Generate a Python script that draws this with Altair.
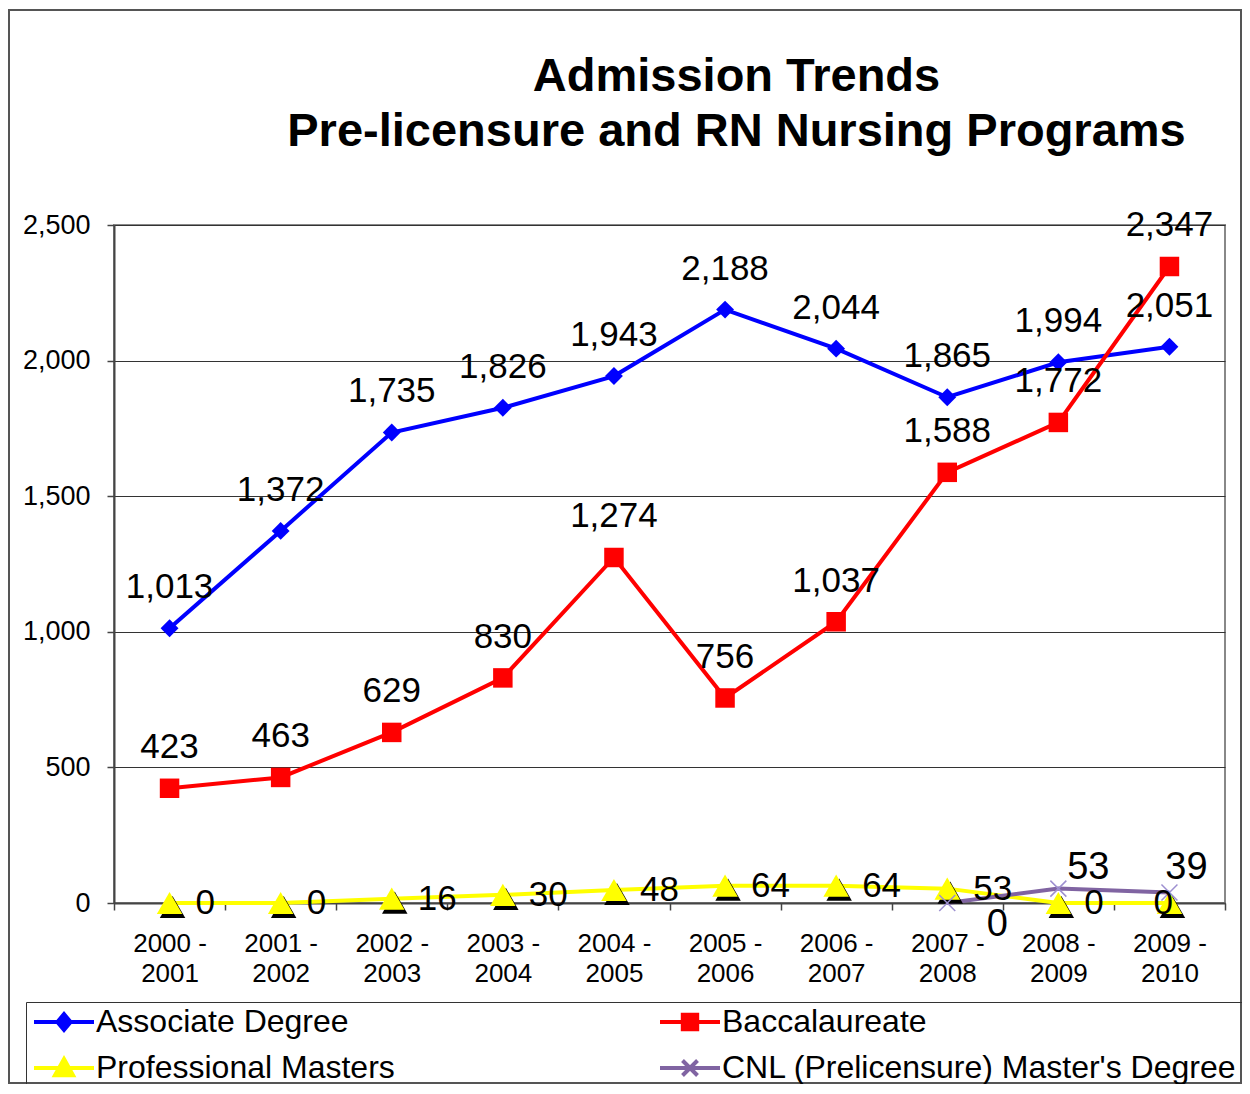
import altair as alt
import pandas as pd

PERIODS = ["2000 - 2001", "2001 - 2002", "2002 - 2003", "2003 - 2004", "2004 - 2005",
           "2005 - 2006", "2006 - 2007", "2007 - 2008", "2008 - 2009", "2009 - 2010"]
ASSOCIATE = [1013, 1372, 1735, 1826, 1943, 2188, 2044, 1865, 1994, 2051]
BACCALAUREATE = [423, 463, 629, 830, 1274, 756, 1037, 1588, 1772, 2347]
PROF_MASTERS = [0, 0, 16, 30, 48, 64, 64, 53, 0, 0]
CNL_PERIODS = ["2007 - 2008", "2008 - 2009", "2009 - 2010"]
CNL = [0, 53, 39]
SERIES = ["Associate Degree", "Baccalaureate", "Professional Masters",
          "CNL (Prelicensure) Master's Degree"]
COLORS = ["#0000FF", "#FF0000", "#FFFF00", "#8064A2"]
Y_TICKS = [0, 500, 1000, 1500, 2000, 2500]

rows = []
for p, v in zip(PERIODS, ASSOCIATE):
    rows.append({"period": p, "series": SERIES[0], "value": v})
for p, v in zip(PERIODS, BACCALAUREATE):
    rows.append({"period": p, "series": SERIES[1], "value": v})
for p, v in zip(PERIODS, PROF_MASTERS):
    rows.append({"period": p, "series": SERIES[2], "value": v})
for p, v in zip(CNL_PERIODS, CNL):
    rows.append({"period": p, "series": SERIES[3], "value": v})
df = pd.DataFrame(rows)

FONT = "Liberation Sans"

x_enc = alt.X("period:N", sort=PERIODS,
              scale=alt.Scale(type="band", domain=PERIODS, paddingInner=0, paddingOuter=0),
              axis=alt.Axis(title=None, labelAngle=0,
                            labelExpr="[substring(datum.label,0,6), substring(datum.label,7)]",
                            labelFont=FONT, labelFontSize=26, labelColor="black",
                            labelLineHeight=30, tickBand="extent", tickSize=7,
                            tickColor="#444", tickWidth=1.5, domainColor="#444",
                            domainWidth=2, labelPadding=20, grid=False))
y_enc = alt.Y("value:Q", scale=alt.Scale(domain=[0, 2500], nice=False),
              axis=alt.Axis(title=None, values=Y_TICKS, format=",.0f", labelFont=FONT,
                            labelFontSize=27, labelColor="black", tickSize=7,
                            tickColor="#444", tickWidth=1.5, domainColor="#444",
                            domainWidth=2, labelPadding=17, grid=True,
                            gridColor="#333", gridWidth=1.2))

base = alt.Chart(df).encode(x=x_enc, y=y_enc)


def sel(name):
    return base.transform_filter(alt.datum.series == name)


layers = []

# outer chart frame (decoration)
frame = alt.Chart(alt.InlineData(values=[{"a": 1}])).mark_rect(
    fill="white", fillOpacity=0, stroke="#555", strokeWidth=2
).encode(x=alt.value(-105), x2=alt.value(1127), y=alt.value(-215), y2=alt.value(858))
layers.append(frame)

# lines
for name, col in zip(SERIES, COLORS):
    layers.append(sel(name).mark_line(color=col, strokeWidth=4))

# markers
layers.append(sel(SERIES[0]).mark_point(shape="diamond", filled=True, size=320,
                                        color=COLORS[0], opacity=1))
layers.append(sel(SERIES[1]).mark_point(shape="square", filled=True, size=380,
                                        color=COLORS[1], opacity=1))
layers.append(sel(SERIES[2]).mark_point(shape="triangle-up", filled=True, size=650,
                                        color="black", opacity=1, xOffset=3, yOffset=4))
layers.append(sel(SERIES[2]).mark_point(shape="triangle-up", filled=True, size=650,
                                        color=COLORS[2], opacity=1))
layers.append(sel(SERIES[3]).mark_point(shape="M-1,-1L1,1M-1,1L1,-1", filled=False,
                                        size=256, color="#9d8fd0", strokeWidth=1.5,
                                        opacity=1))

# data labels
txt = dict(font=FONT, color="black")
fmt = alt.Text("value:Q", format=",")
layers.append(sel(SERIES[0]).mark_text(dy=-41, fontSize=35, baseline="middle", **txt)
              .encode(text=fmt))
layers.append(sel(SERIES[1]).mark_text(dy=-41, fontSize=35, baseline="middle", **txt)
              .encode(text=fmt))
layers.append(sel(SERIES[2]).transform_filter(alt.datum.period != PERIODS[-1])
              .mark_text(dx=26, align="left", fontSize=35, baseline="middle", **txt)
              .encode(text=fmt))
layers.append(sel(SERIES[2]).transform_filter(alt.datum.period == PERIODS[-1])
              .mark_text(dx=-16, align="left", fontSize=35, baseline="middle", **txt)
              .encode(text=fmt))
cnl_offsets = [(50, 22), (30, -21), (17, -24)]
for p, (ddx, ddy) in zip(CNL_PERIODS, cnl_offsets):
    layers.append(sel(SERIES[3]).transform_filter(alt.datum.period == p)
                  .mark_text(dx=ddx, dy=ddy, fontSize=38, baseline="middle", **txt)
                  .encode(text=fmt))

# legend (invisible layer that only feeds the legend)
LEGEND_SHAPES = [
    "M-1,0L1,0M-0.22,0L0,-0.26L0.22,0L0,0.26Z",
    "M-1,0L1,0M-0.24,-0.24L0.24,-0.24L0.24,0.24L-0.24,0.24Z",
    "M-1,0L1,0M0,-0.3L0.3,0.24L-0.3,0.24Z",
    "M-1,0L1,0M-0.25,-0.25L0.25,0.25M-0.25,0.25L0.25,-0.25",
]
leg = alt.Legend(title=None, orient="none", legendX=-88, legendY=777, columns=2,
                 direction="horizontal",
                 columnPadding=263, rowPadding=14, clipHeight=28, symbolSize=3600,
                 symbolStrokeWidth=4, symbolOpacity=1, labelFont=FONT, labelFontSize=32,
                 labelColor="black", labelLimit=800, labelOffset=0, padding=6,
                 strokeColor="#333")
legend_df = pd.DataFrame({"series": SERIES})
legend_layer = alt.Chart(legend_df).mark_point(
    filled=True, size=3600, opacity=0, strokeWidth=4
).encode(
    x=alt.value(0), y=alt.value(0),
    fill=alt.Fill("series:N", scale=alt.Scale(domain=SERIES, range=COLORS), legend=leg),
    stroke=alt.Stroke("series:N", scale=alt.Scale(domain=SERIES, range=COLORS), legend=leg),
    shape=alt.Shape("series:N", scale=alt.Scale(domain=SERIES, range=LEGEND_SHAPES),
                    legend=leg),
)
layers.append(legend_layer)

chart = alt.layer(*layers).properties(
    width=1111, height=678,
    autosize=alt.AutoSizeParams(type="none"),
    padding={"left": 106, "top": 217, "right": 17, "bottom": 181},
    title=alt.TitleParams(["Admission Trends", "Pre-licensure and RN Nursing Programs"],
                          font=FONT, fontSize=47, fontWeight="bold", color="black",
                          anchor="middle", frame="group", dx=67, offset=-147,
                          lineHeight=55),
).configure_view(stroke="#888", strokeWidth=2)

chart.save("out.html", embed_options={"renderer": "svg", "actions": False})
